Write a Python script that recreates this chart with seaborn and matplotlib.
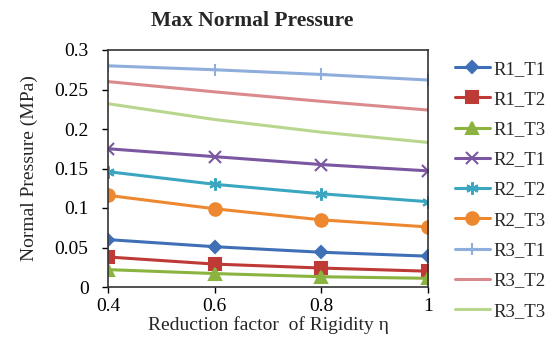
import matplotlib
matplotlib.use("Agg")
import matplotlib.pyplot as plt
import seaborn as sns

eta = [0.4, 0.6, 0.8, 1.0]

series_names = ["R1_T1", "R1_T2", "R1_T3", "R2_T1", "R2_T2", "R2_T3",
                "R3_T1", "R3_T2", "R3_T3"]
r1_t1 = [0.060, 0.051, 0.044, 0.039]
r1_t2 = [0.038, 0.029, 0.024, 0.020]
r1_t3 = [0.022, 0.017, 0.013, 0.011]
r2_t1 = [0.175, 0.165, 0.155, 0.147]
r2_t2 = [0.146, 0.130, 0.118, 0.108]
r2_t3 = [0.116, 0.099, 0.085, 0.076]
r3_t1 = [0.280, 0.275, 0.269, 0.262]
r3_t2 = [0.260, 0.247, 0.235, 0.224]
r3_t3 = [0.232, 0.212, 0.196, 0.183]
values = [r1_t1, r1_t2, r1_t3, r2_t1, r2_t2, r2_t3, r3_t1, r3_t2, r3_t3]

colors = ["#3F6FB6", "#BE3A36", "#8AB43F", "#7A57A0", "#3AA6C0",
          "#EE8830", "#8FAEDC", "#DA8A8C", "#B9D68E"]
markers = ["D", "s", "^", "x", (6, 2, 0), "o", "+", "", ""]
msizes = [6, 8, 8, 8, 9, 9, 9, 0, 0]

sns.set_style("white")
plt.rcParams["font.family"] = ["Liberation Serif", "DejaVu Serif"]

fig = plt.figure(figsize=(5.55, 3.53), dpi=100)
ax = fig.add_axes([108 / 555, 1 - 287 / 353, 320 / 555, 237 / 353])

for name, vals, c, m, ms in zip(series_names, values, colors, markers, msizes):
    sns.lineplot(x=eta, y=vals, color=c, marker=m if m else None,
                 markersize=ms, markeredgecolor=c, markeredgewidth=1.5,
                 linewidth=2.2, label=name, ax=ax)

ax.set_xlim(0.4, 1.0)
ax.set_ylim(0, 0.3)
ax.set_xticks([0.4, 0.6, 0.8, 1.0])
ax.set_xticklabels(["0.4", "0.6", "0.8", "1"])
ax.set_yticks([0, 0.05, 0.1, 0.15, 0.2, 0.25, 0.3])
ax.set_yticklabels(["0", "0.05", "0.1", "0.15", "0.2", "0.25", "0.3"])
ax.tick_params(labelsize=14, direction="out", length=4, width=1,
               left=True, bottom=True, colors="black")
ax.tick_params(axis="y", pad=10)
ax.tick_params(axis="x", pad=4)
for s in ax.spines.values():
    s.set_color("#333333")
    s.set_linewidth(1.2)

ax.set_xlabel("Reduction factor  of Rigidity η", fontsize=14, labelpad=1)
ax.set_ylabel("Normal Pressure (MPa)", fontsize=14, labelpad=12)
fig.text(252 / 555, 1 - 21 / 353, "Max Normal Pressure", ha="center",
         va="center", fontsize=15.5, fontweight="bold")

handles, labels = ax.get_legend_handles_labels()
ax.legend_.remove()
fig.legend(handles, labels, loc="upper left",
           bbox_to_anchor=(447 / 555, 1 - 53 / 353), frameon=False,
           fontsize=13.5, labelspacing=0.7, handlelength=1.9,
           handletextpad=0.2, borderaxespad=0)

fig.savefig("out.png", dpi=100)
